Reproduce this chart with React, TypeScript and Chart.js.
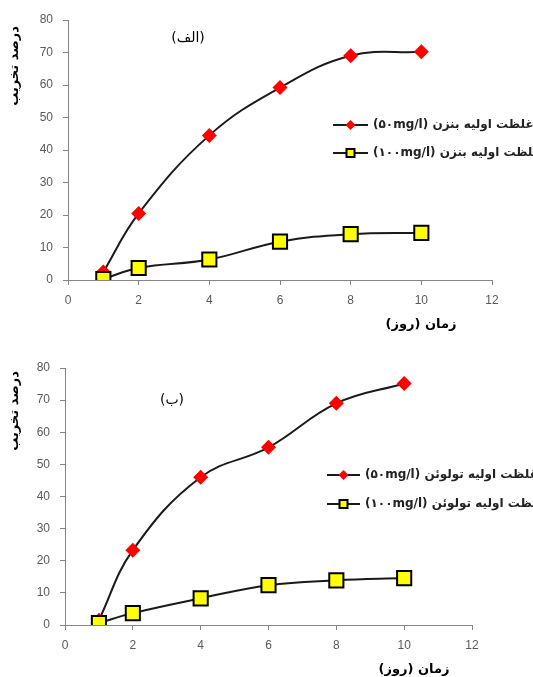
import React, { useEffect, useRef } from "react";
import { Chart, registerables } from "chart.js";
Chart.register(...registerables);

const days = [1, 2, 4, 6, 8, 10];
const benzene50 = [2.5, 20.5, 44.5, 59.2, 69, 70.2];
const benzene100 = [0.3, 3.7, 6.3, 11.8, 14.1, 14.5];
const toluene50 = [1.5, 23.3, 46, 55.3, 69, 75.2];
const toluene100 = [0.6, 3.7, 8.3, 12.4, 13.9, 14.6];
const xTickValues = [0, 2, 4, 6, 8, 10, 12];
const yTickValues = [0, 10, 20, 30, 40, 50, 60, 70, 80];
const legendA = ["غلظت اولیه بنزن (۵۰mg/l)", "غلظت اولیه بنزن (۱۰۰mg/l)"];
const legendB = ["غلظت اولیه تولوئن (۵۰mg/l)", "غلظت اولیه تولوئن (۱۰۰mg/l)"];
const panelTitles = ["(الف)", "(ب)"];
const yTitle = "درصد تخریب";
const xTitle = "زمان (روز)";

type Layout = {
  height: number;
  left: number;
  right: number;
  top: number;
  bottom: number;
  titleX: number;
  titleY: number;
  yTitleY: number;
  xTitleX: number;
  xTitleY: number;
  legX0: number;
  legX1: number;
  legY: number[];
};

const layoutA: Layout = {
  height: 340, left: 68, right: 492, top: 20, bottom: 280,
  titleX: 188, titleY: 38, yTitleY: 66, xTitleX: 421, xTitleY: 325,
  legX0: 333, legX1: 368, legY: [125, 153],
};
const layoutB: Layout = {
  height: 337, left: 65, right: 472, top: 28, bottom: 285,
  titleX: 172, titleY: 60, yTitleY: 71, xTitleX: 414, xTitleY: 330,
  legX0: 327, legX1: 360, legY: [135, 164],
};

const AXIS = "#868686";
const TICK = "#595959";

function drawDiamond(ctx: CanvasRenderingContext2D, x: number, y: number, r: number) {
  ctx.beginPath();
  ctx.moveTo(x - r, y);
  ctx.lineTo(x, y - r);
  ctx.lineTo(x + r, y);
  ctx.lineTo(x, y + r);
  ctx.closePath();
  ctx.fillStyle = "#ff0000";
  ctx.fill();
}
function drawSquare(ctx: CanvasRenderingContext2D, x: number, y: number, h: number) {
  ctx.fillStyle = "#ffff00";
  ctx.strokeStyle = "#000";
  ctx.lineWidth = 2;
  ctx.fillRect(x - h, y - h, 2 * h, 2 * h);
  ctx.strokeRect(x - h, y - h, 2 * h, 2 * h);
}

function makeChart(canvas: HTMLCanvasElement, s50: number[], s100: number[], legend: string[], title: string, L: Layout) {
  const decor = {
    id: "decor",
    afterDraw(chart: any) {
      const ctx = chart.ctx as CanvasRenderingContext2D;
      ctx.save();
      ctx.fillStyle = "#000";
      ctx.font = "14px 'DejaVu Sans'";
      ctx.textAlign = "center";
      ctx.textBaseline = "middle";
      (ctx as any).direction = "rtl";
      ctx.fillText(title, L.titleX, L.titleY);
      ctx.font = "bold 13px 'DejaVu Sans'";
      ctx.fillText(xTitle, L.xTitleX, L.xTitleY);
      ctx.save();
      ctx.translate(15, L.yTitleY);
      ctx.rotate(-Math.PI / 2);
      ctx.font = "bold 13px 'DejaVu Sans'";
      ctx.fillText(yTitle, 0, 0);
      ctx.restore();
      legend.forEach((txt, i) => {
        const y = L.legY[i];
        ctx.strokeStyle = "#1a1a1a";
        ctx.lineWidth = 2;
        ctx.beginPath();
        ctx.moveTo(L.legX0, y);
        ctx.lineTo(L.legX1, y);
        ctx.stroke();
        const cx = (L.legX0 + L.legX1) / 2;
        if (i === 0) drawDiamond(ctx, cx, y, 5);
        else drawSquare(ctx, cx, y, 4);
        ctx.fillStyle = "#222";
        ctx.font = "bold 12px 'DejaVu Sans'";
        ctx.textAlign = "left";
        ctx.textBaseline = "middle";
        (ctx as any).direction = "rtl";
        ctx.fillText(txt, L.legX1 + 5, y);
      });
      ctx.restore();
    },
  };

  return new Chart(canvas, {
    type: "line",
    data: {
      datasets: [
        {
          label: legend[1],
          data: days.map((d, i) => ({ x: d, y: s100[i] })),
          borderColor: "#1a1a1a",
          borderWidth: 2,
          tension: 0.4,
          pointStyle: "rect",
          pointRadius: 10,
          pointBackgroundColor: "#ffff00",
          pointBorderColor: "#000",
          pointBorderWidth: 2,
          order: 0,
        },
        {
          label: legend[0],
          data: days.map((d, i) => ({ x: d, y: s50[i] })),
          borderColor: "#1a1a1a",
          borderWidth: 2,
          tension: 0.4,
          pointStyle: "rectRot",
          pointRadius: 7.5,
          pointBackgroundColor: "#ff0000",
          pointBorderColor: "#ff0000",
          pointBorderWidth: 0,
          order: 1,
        },
      ],
    },
    options: {
      animation: false,
      responsive: false,
      events: [],
      layout: { padding: { left: 0, right: 533 - L.right, top: L.top, bottom: 0 } },
      plugins: { legend: { display: false }, tooltip: { enabled: false }, title: { display: false } },
      scales: {
        x: {
          type: "linear",
          min: 0,
          max: 12,
          afterBuildTicks: (s: any) => { s.ticks = xTickValues.map((v) => ({ value: v })); },
          afterFit: (s: any) => { s.height = L.height - L.bottom; },
          border: { color: AXIS, width: 1 },
          grid: { drawOnChartArea: false, drawTicks: true, tickLength: 5, color: AXIS },
          ticks: { color: TICK, font: { family: "'Liberation Sans'", size: 12 }, padding: 8, maxRotation: 0 },
        },
        y: {
          type: "linear",
          min: 0,
          max: 80,
          afterBuildTicks: (s: any) => { s.ticks = yTickValues.map((v) => ({ value: v })); },
          afterFit: (s: any) => { s.width = L.left; },
          border: { color: AXIS, width: 1 },
          grid: { drawOnChartArea: false, drawTicks: true, tickLength: 5, color: AXIS },
          ticks: { color: TICK, font: { family: "'Liberation Sans'", size: 12 }, padding: 10 },
        },
      },
    } as any,
    plugins: [decor],
  });
}

function Panel(props: { s50: number[]; s100: number[]; legend: string[]; title: string; L: Layout }) {
  const ref = useRef<HTMLCanvasElement | null>(null);
  useEffect(() => {
    if (!ref.current) return;
    const c = makeChart(ref.current, props.s50, props.s100, props.legend, props.title, props.L);
    return () => c.destroy();
  }, []);
  return <canvas ref={ref} width={533} height={props.L.height} style={{ display: "block", width: 533, height: props.L.height }} />;
}

export default function App() {
  useEffect(() => {
    document.body.style.margin = "0";
    document.body.style.background = "#fff";
  }, []);
  return (
    <div style={{ width: 533, height: 677, overflow: "hidden", background: "#fff", position: "absolute", left: 0, top: 0 }}>
      <Panel s50={benzene50} s100={benzene100} legend={legendA} title={panelTitles[0]} L={layoutA} />
      <Panel s50={toluene50} s100={toluene100} legend={legendB} title={panelTitles[1]} L={layoutB} />
    </div>
  );
}
